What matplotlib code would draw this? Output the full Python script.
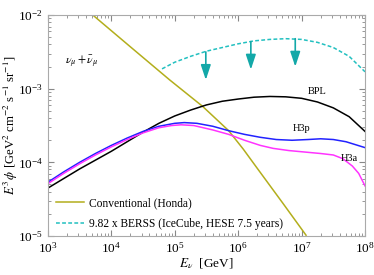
import numpy as np
import matplotlib
matplotlib.use("Agg")
import matplotlib.pyplot as plt

plt.rcParams['font.family'] = ['Liberation Serif', 'DejaVu Serif']
plt.rcParams['mathtext.fontset'] = 'stix'

# log10(E/GeV), log10(E^3 phi)
conv_logE = [3.71, 4.30, 4.92, 5.44, 5.85, 6.08, 6.30, 6.70, 7.07]
conv_logF = [-2.00, -2.43, -2.88, -3.24, -3.57, -3.82, -4.08, -4.55, -4.99]

berss_logE = [4.80, 5.00, 5.25, 5.50, 5.75, 6.00, 6.25, 6.50, 6.75, 7.00, 7.25, 7.50, 7.75, 8.00]
berss_logF = [-2.73, -2.64, -2.56, -2.49, -2.44, -2.39, -2.35, -2.33, -2.32, -2.33, -2.37, -2.44, -2.56, -2.77]

bpl_logE = [3.00, 3.25, 3.50, 3.75, 4.00, 4.25, 4.50, 4.75, 5.00, 5.25, 5.50, 5.75,
            6.00, 6.25, 6.50, 6.75, 7.00, 7.25, 7.50, 7.75, 8.00]
bpl_logF = [-4.35, -4.22, -4.09, -3.97, -3.85, -3.72, -3.59, -3.47, -3.37, -3.29, -3.22, -3.17,
            -3.14, -3.115, -3.105, -3.11, -3.13, -3.18, -3.26, -3.38, -3.58]

h3p_logE = [3.00, 3.25, 3.50, 3.75, 4.00, 4.25, 4.50, 4.75, 5.00, 5.15, 5.35, 5.60,
            5.85, 6.10, 6.35, 6.60, 6.85, 7.10, 7.30, 7.50, 7.70, 7.85, 8.00]
h3p_logF = [-4.27, -4.13, -4.00, -3.88, -3.77, -3.67, -3.58, -3.51, -3.47, -3.46, -3.47, -3.51,
            -3.57, -3.62, -3.66, -3.69, -3.70, -3.69, -3.68, -3.69, -3.72, -3.76, -3.80]

h3a_logE = [3.00, 3.25, 3.50, 3.75, 4.00, 4.25, 4.50, 4.75, 4.95, 5.10, 5.30, 5.60,
            5.85, 6.10, 6.35, 6.55, 6.80, 7.05, 7.30, 7.50, 7.65, 7.80, 7.90, 8.00]
h3a_logF = [-4.29, -4.15, -4.02, -3.90, -3.79, -3.69, -3.60, -3.53, -3.50, -3.49, -3.50, -3.56,
            -3.62, -3.70, -3.77, -3.81, -3.84, -3.86, -3.88, -3.90, -3.95, -4.05, -4.15, -4.32]

arrow_logE = [5.49, 6.20, 6.90]
arrow_top = [-2.50, -2.36, -2.32]
arrow_len = 0.38

fig = plt.figure(figsize=(3.74, 2.75), dpi=100)
ax = fig.add_axes([0.128, 0.142, 0.848, 0.803])

p = lambda a: 10 ** np.array(a)

ax.plot(p(conv_logE), p(conv_logF), color='#b3ae1c', lw=1.1, label='Conventional (Honda)')
ax.plot(p(berss_logE), p(berss_logF), color='#22c0c0', lw=1.1, ls=(0, (2.5, 1.5)),
        label='9.82 x BERSS (IceCube, HESE 7.5 years)')
ax.plot(p(bpl_logE), p(bpl_logF), color='black', lw=1.1)
ax.plot(p(h3p_logE), p(h3p_logF), color='#2222ff', lw=1.1)
ax.plot(p(h3a_logE), p(h3a_logF), color='#ff33ff', lw=1.1)

for e, t in zip(arrow_logE, arrow_top):
    ax.annotate('', xy=(10 ** e, 10 ** (t - arrow_len)), xytext=(10 ** e, 10 ** t),
                arrowprops=dict(arrowstyle='-|>,head_width=0.3,head_length=0.9',
                                color='#13a8a8', lw=1.2, shrinkA=0, shrinkB=0))

ax.text(10 ** 7.10, 10 ** -3.04, 'BPL', fontsize=7.5, va='center')
ax.text(10 ** 6.86, 10 ** -3.54, 'H3p', fontsize=7.5, va='center')
ax.text(10 ** 7.62, 10 ** -3.95, 'H3a', fontsize=7.5, va='center')
ax.text(10 ** 3.27, 10 ** -2.64, r'$\nu_\mu + \bar{\nu}_\mu$', fontsize=8.5, va='center')

ax.set_xscale('log')
ax.set_yscale('log')
ax.set_xlim(1e3, 1e8)
ax.set_ylim(1e-5, 1e-2)
ax.set_xlabel(r'$E_\nu$  [GeV]', fontsize=9.5, labelpad=1)
ax.set_ylabel(r'$E^3\,\phi$ [GeV$^2$ cm$^{-2}$ s$^{-1}$ sr$^{-1}$]', fontsize=9.2)
ax.yaxis.set_label_coords(-0.088, 0.5)

ax.tick_params(which='both', direction='in', top=True, right=True, labelsize=9.5, color='#888888')
ax.tick_params(which='major', length=4)
ax.tick_params(which='minor', length=2)
for s in ax.spines.values():
    s.set_color('#aaaaaa')

ax.legend(loc='lower left', frameon=False, fontsize=8.3, handlelength=2.4, handletextpad=0.5,
          labelspacing=0.75, borderaxespad=0.3, bbox_to_anchor=(0.0, -0.01))

fig.savefig('out.png', dpi=100)
